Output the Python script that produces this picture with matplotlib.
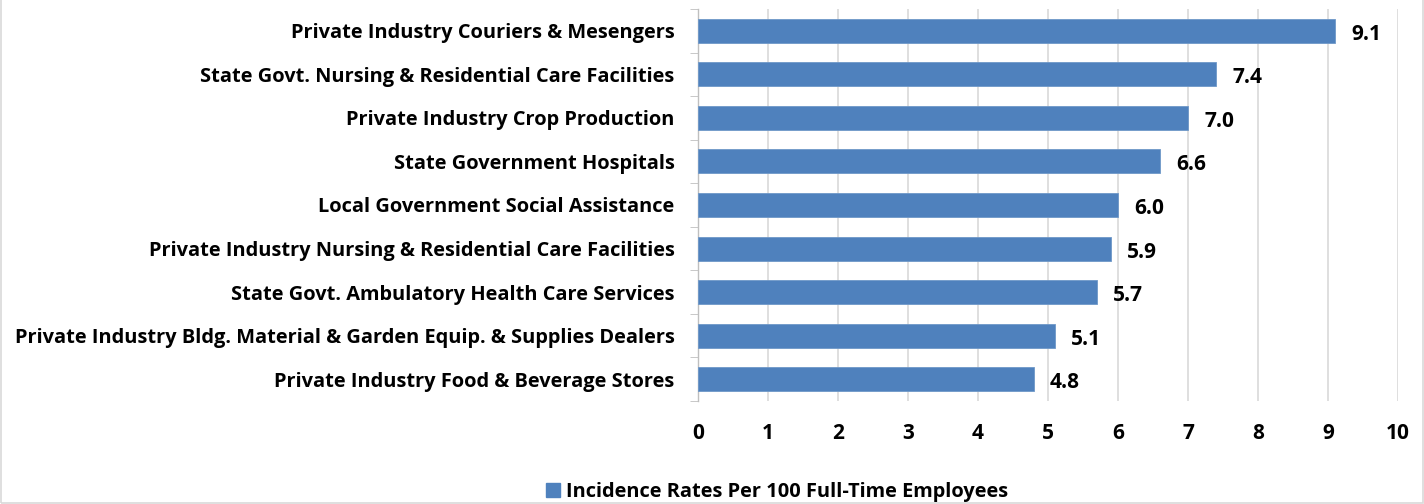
import numpy as np
import matplotlib.pyplot as plt
from matplotlib.patches import Rectangle

categories = [
    "Private Industry Couriers & Mesengers",
    "State Govt. Nursing & Residential Care Facilities",
    "Private Industry Crop Production",
    "State Government Hospitals",
    "Local Government Social Assistance",
    "Private Industry Nursing & Residential Care Facilities",
    "State Govt. Ambulatory Health Care Services",
    "Private Industry Bldg. Material & Garden Equip. & Supplies Dealers",
    "Private Industry Food & Beverage Stores",
]
rates = [9.1, 7.4, 7.0, 6.6, 6.0, 5.9, 5.7, 5.1, 4.8]
series_name = "Incidence Rates Per 100 Full-Time Employees"
xticks = list(range(0, 11))

plt.rcParams['font.family'] = ['Open Sans', 'DejaVu Sans']
plt.rcParams['font.weight'] = 'bold'

fig = plt.figure(figsize=(14.24, 5.04), dpi=100)
ax = fig.add_axes([698/1424, 1 - 401/504, 700/1424, 392/504])

bar_color = '#4f81bd'
y = np.arange(len(categories))
ax.barh(y, rates, height=0.55, color=bar_color, edgecolor='#6f98c8', linewidth=0.6, zorder=3)

for yi, v in zip(y, rates):
    ax.text(v + 0.23, yi + 0.08, f"{v:.1f}", va='center', ha='left',
            fontsize=15, fontweight='bold', color='black')

ax.set_xlim(0, 10)
ax.set_ylim(len(categories) - 0.5, -0.5)
ax.set_xticks(xticks)
ax.set_xticklabels([str(t) for t in xticks], fontsize=15, fontweight='bold')
ax.set_yticks(y)
ax.set_yticklabels(categories, fontsize=14.4, fontweight='bold')
ax.set_yticks(np.arange(-0.5, len(categories)), minor=True)
ax.tick_params(axis='y', which='major', length=0, pad=17)
ax.tick_params(axis='y', which='minor', length=6, color='#bfbfbf', direction='out')
ax.tick_params(axis='x', length=0, pad=16)

ax.xaxis.grid(True, color='#d9d9d9', linewidth=1.2, zorder=0)
ax.set_axisbelow(True)
for s in ['top', 'right', 'bottom']:
    ax.spines[s].set_visible(False)
ax.spines['left'].set_color('#bfbfbf')
ax.spines['left'].set_linewidth(1.0)

handle = Rectangle((0, 0), 1, 1, color=bar_color)
fig.legend([handle], [series_name], loc='center', bbox_to_anchor=(777/1424, 1 - 492/504),
           frameon=False, prop={'weight': 'bold', 'size': 14.4},
           handlelength=0.7, handleheight=0.7, handletextpad=0.3)

fig.patches.append(Rectangle((0.001, 0.001), 0.998, 1.2, transform=fig.transFigure,
                             fill=False, edgecolor='#d9d9d9', linewidth=1.2))

fig.savefig('out.png', dpi=100)
